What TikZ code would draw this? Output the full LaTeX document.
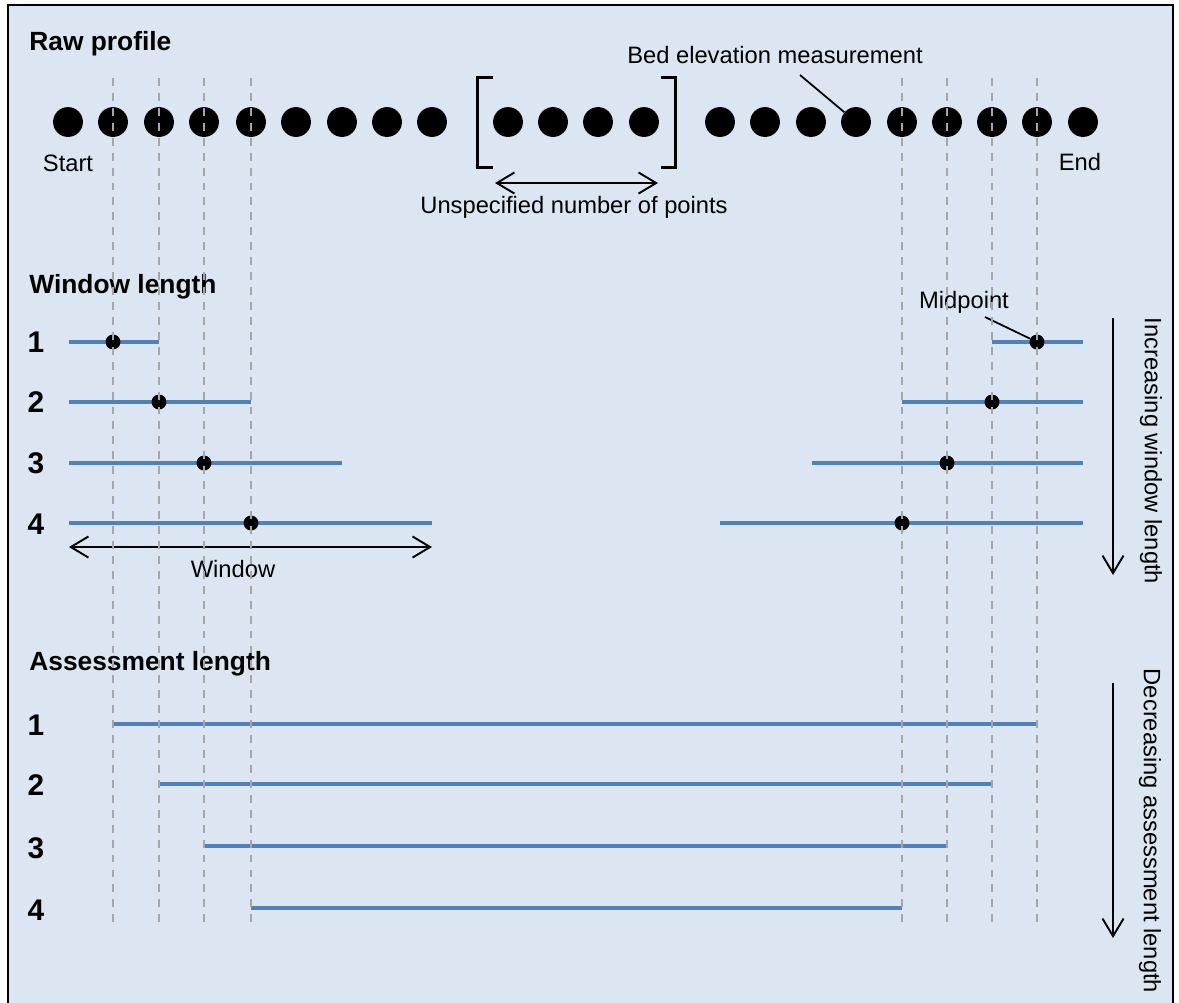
\documentclass[tikz,border=0pt]{standalone}
\usepackage{fontspec}
\setmainfont{Liberation Sans}
\usetikzlibrary{arrows.meta}
\definecolor{panel}{RGB}{220,230,242}
\definecolor{bar}{RGB}{79,129,189}
\definecolor{guide}{RGB}{166,166,166}

\tikzset{
  pt/.style={circle, fill=black, inner sep=0pt, minimum size=17pt},
  midpt/.style={circle, fill=black, inner sep=0pt, minimum size=8.5pt},
  head/.style={font=\bfseries\fontsize{15}{18}\selectfont, anchor=base west, inner sep=0pt},
  num/.style={font=\bfseries\fontsize{17}{20}\selectfont},
  lbl/.style={font=\fontsize{13.5}{16}\selectfont},
  win/.style={bar, line width=2.4pt},
  guideline/.style={guide, line width=1pt, dash pattern=on 4.5pt off 4pt},
  barb/.tip={Straight Barb[length=10pt,width=12pt]},
  span/.style={barb-barb, line width=1.1pt},
  trend/.style={-barb, line width=1.1pt},
}

\begin{document}
\begin{tikzpicture}[x=0.02cm, y=-0.02cm]
  \useasboundingbox (0,0) rectangle (1179,1002);
  \fill[white] (0,0) rectangle (1179,1002);
  \draw[fill=panel, line width=1.2pt] (8,5) rectangle (1173,1015);

  %% Raw profile
  \node[head] (raw) at (29,50) {Raw profile};
  \foreach \x [count=\i] in {68,113,159,204,251,296,342,387,432}
    \node[pt] (a\i) at (\x,122) {};
  \foreach \x [count=\i] in {508,553,598,644}
    \node[pt] (b\i) at (\x,122) {};
  \foreach \x [count=\i] in {720,765,811,856,902,947,992,1037,1083}
    \node[pt] (c\i) at (\x,122) {};
  \node[lbl] (start) at (68,163) {Start};
  \node[lbl] (end) at (1080,162) {End};

  %% brackets round the unspecified points
  \draw[line width=1.7pt] (493,77) -- (477,77) -- (477,167) -- (493,167);
  \draw[line width=1.7pt] (661,77) -- (675,77) -- (675,167) -- (661,167);
  \coordinate (u1) at (495,183);
  \coordinate (u2) at (658,183);
  \draw[span] (u1) -- (u2);
  \node[lbl, anchor=base] (unspec) at (574,213) {Unspecified number of points};

  \node[lbl] (bed) at (775,55) {Bed elevation measurement};
  \coordinate (bedtip) at (800,75);
  \draw[line width=1pt] (bedtip) -- (c4);

  %% Window length
  \node[head] (winhead) at (29,293) {Window length};
  \foreach \y [count=\i] in {342,402,463,524}
    \node[num] (w\i) at (36,\y) {\i};
  \foreach \y/\r/\m [count=\i] in {342/159/113, 402/251/159, 463/342/204, 523/432/251}{
    \draw[win] (69,\y) -- (\r,\y);
    \node[midpt] (lm\i) at (\m,\y) {};
  }
  \foreach \y/\l/\m [count=\i] in {342/992/1037, 402/902/992, 463/812/947, 523/720/902}{
    \draw[win] (\l,\y) -- (1083,\y);
    \node[midpt] (rm\i) at (\m,\y) {};
  }
  \coordinate (win1) at (69,547);
  \coordinate (win2) at (432,547);
  \draw[span] (win1) -- (win2);
  \node[lbl, anchor=base] (window) at (233,577) {Window};

  \node[lbl, anchor=base] (mid) at (964,308) {Midpoint};
  \coordinate (midtip) at (985,317);
  \draw[line width=1pt] (midtip) -- (rm1);

  \coordinate (inc1) at (1113,318);
  \coordinate (inc2) at (1113,575);
  \draw[trend] (inc1) -- (inc2);
  \node[lbl, rotate=-90] (inc) at (1151,451) {Increasing window length};

  %% Assessment length
  \node[head] (asshead) at (29,670) {Assessment length};
  \foreach \y [count=\i] in {725,785,848,910}
    \node[num] (s\i) at (36,\y) {\i};
  \foreach \y/\l/\r in {724/113/1037, 784/159/992, 846/204/947, 908/251/902}
    \draw[win] (\l,\y) -- (\r,\y);

  \coordinate (dec1) at (1113,683);
  \coordinate (dec2) at (1113,938);
  \draw[trend] (dec1) -- (dec2);
  \node[lbl, rotate=-90] (dec) at (1150,831) {Decreasing assessment length};

  %% guides through the midpoints
  \foreach \x in {113,159,204,251,902,947,992,1037}
    \draw[guideline] (\x,78) -- (\x,925);
\end{tikzpicture}
\end{document}
